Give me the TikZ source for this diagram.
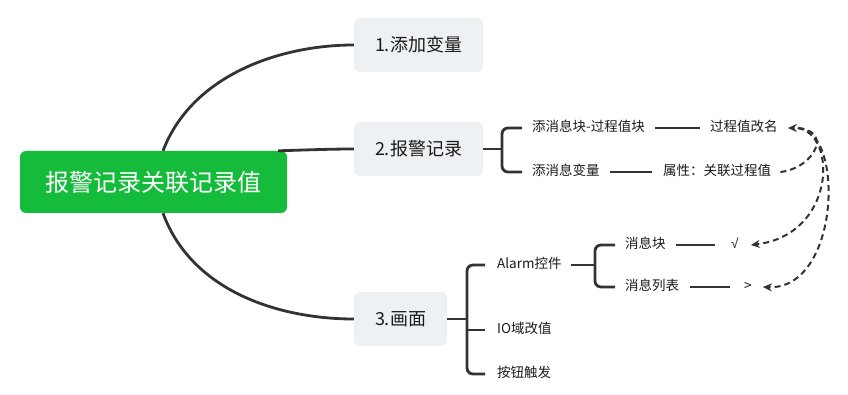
\documentclass[tikz,border=0pt]{standalone}
\usepackage{fontspec}
\setmainfont{Noto Sans CJK SC}
\newfontfamily\symfont{Liberation Sans}
\usetikzlibrary{arrows.meta}
\definecolor{rootgreen}{RGB}{21,187,58}
\definecolor{boxgray}{RGB}{238,241,244}
\definecolor{linegray}{RGB}{51,51,51}
\definecolor{txt}{RGB}{26,26,26}
\tikzset{
  rootbox/.style={fill=rootgreen, rounded corners=6pt, inner sep=0pt, text=white, font=\fontsize{24}{28}\selectfont},
  topicbox/.style={fill=boxgray, rounded corners=6pt, inner sep=0pt, minimum height=54pt, text=txt, font=\fontsize{18}{22}\selectfont},
  leaf/.style={anchor=west, inner sep=0pt, text=txt, text height=0.88em, text depth=0.12em, font=\fontsize{13.5}{16}\selectfont},
  mainline/.style={draw=linegray, line width=2.8pt},
  brline/.style={draw=linegray, line width=2.8pt, rounded corners=6pt},
  relline/.style={draw=linegray, line width=2pt, dash pattern=on 6pt off 4pt, -{Stealth[length=9pt,width=8pt]}},
}
\begin{document}
\begin{tikzpicture}[x=1pt,y=-1pt]
\useasboundingbox (0,0) rectangle (848,395);
% main nodes
\node[rootbox, minimum width=267pt, minimum height=62pt] (root) at (153.5,182) {报警记录关联记录值};
\node[topicbox, minimum width=129pt] (b1) at (418.5,45) {1.添加变量};
\node[topicbox, minimum width=129pt] (b2) at (418.5,149) {2.报警记录};
\node[topicbox, minimum width=93pt] (b3) at (400.5,319) {3.画面};
% leaves of 2
\node[leaf] (t21) at (532,128) {添消息块-过程值块};
\node[leaf] (t22) at (710,128) {过程值改名};
\node[leaf] (t23) at (532,172) {添消息变量};
\node[leaf] (t24) at (663,172) {属性：关联过程值};
% leaves of 3
\node[leaf] (t31) at (497,265) {Alarm控件};
\node[leaf] (t32) at (497,330) {IO域改值};
\node[leaf] (t33) at (497,374) {按钮触发};
\node[leaf] (t311) at (625,245) {消息块};
\node[leaf] (t312) at (625,287) {消息列表};
\node[leaf] (chk) at (731,245) {\symfont √};
\node[leaf] (gt) at (744,287) {>};
% junctions
\coordinate (j2) at (502,149);
\coordinate (j3) at (467,319);
\coordinate (j31) at (595,265);
% main curves
\draw[mainline] ([xshift=9.5pt]root.north) .. controls (192,75) and (280,45) .. (b1.west);
\draw[mainline] ([xshift=-9pt]root.north east) .. controls (305,150) and (330,149) .. (b2.west);
\draw[mainline] ([xshift=9.5pt]root.south) .. controls (192,292) and (280,319) .. (b3.west);
% brackets of 2
\draw[mainline] (b2.east) -- (j2);
\draw[brline] ([xshift=-10pt]t21.west) -| (j2) |- ([xshift=-10pt]t23.west);
\draw[mainline, shorten <=10pt, shorten >=10pt] (t21.east) -- (t22.west);
\draw[mainline, shorten <=10pt, shorten >=11pt] (t23.east) -- (t24.west);
% brackets of 3
\draw[mainline] (b3.east) -- (j3);
\draw[brline] ([xshift=-12pt]t31.west) -| (j3) |- ([xshift=-12pt]t33.west);
\draw[mainline] (j3) |- ([xshift=-12pt]t32.west);
\draw[mainline, shorten <=9pt] (t31.east) -- (j31);
\draw[brline] ([xshift=-10pt]t311.west) -| (j31) |- ([xshift=-10pt]t312.west);
\draw[mainline, shorten <=10pt, shorten >=16pt] (t311.east) -- (chk.west);
\draw[mainline, shorten <=11pt, shorten >=14pt] (t312.east) -- (gt.west);
% relation arrows
\draw[relline] ([xshift=9pt]t24.east) .. controls (815,168) and (835,128) .. ([xshift=10pt]t22.east);
\draw[relline] ([xshift=20pt]t22.east) .. controls (838,135) and (835,235) .. ([xshift=12pt]chk.east);
\draw[relline] ([xshift=20pt]t22.east) .. controls (845,130) and (840,290) .. ([xshift=11pt]gt.east);
\end{tikzpicture}
\end{document}
